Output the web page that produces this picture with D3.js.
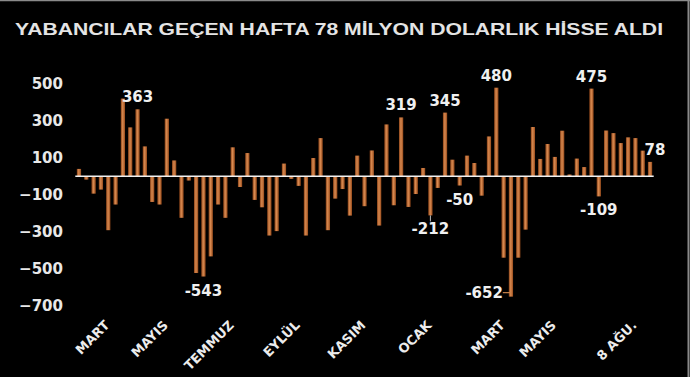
<!DOCTYPE html>
<html>
<head>
<meta charset="utf-8">
<script src="https://cdn.jsdelivr.net/npm/d3@7"></script>
<style>
  html, body { margin: 0; padding: 0; background: #000; }
</style>
</head>
<body>
<div id="chart"></div>
<script>
// weekly net foreign equity flows, million USD
const values = [40, -18, -94, -72, -292, -153, 421, 265, 363, 162,
  -139, -153, 312, 86, -225, -23, -524, -543, -434, -153,
  -225, 157, -58, 126, -128, -168, -321, -297, 69, -14,
  -52, -321, 99, 207, -292, -121, -69, -213, 112, -162,
  140, -267, 281, -157, 319, -166, -96, 45, -212, -63,
  345, 90, -50, 112, 72, -105, 216, 480, -441, -652,
  -441, -289, 267, 94, 175, 105, 247, 10, 96, 50,
  475, -109, 248, 234, 180, 211, 207, 139, 78];

const monthLabels = ["MART", "MAYIS", "TEMMUZ", "EYLÜL", "KASIM", "OCAK", "MART", "MAYIS", "8 AĞU."];
const monthIndex = [4, 12, 21, 30, 39, 48, 58, 65, 76];

const labelIndex = [8, 17, 44, 48, 50, 52, 57, 59, 70, 71, 78];

const yTicks = [500, 300, 100, -100, -300, -500, -700];

const title = "YABANCILAR GEÇEN HAFTA 78 MİLYON DOLARLIK HİSSE ALDI";

(function chart(){
  let width = 690,
    height = 377;

  const svg = d3.select("#chart")
    .append("svg")
    .attr("width", width)
    .attr("height", height)
    .style("display", "block")
    .style("background", "#000");

  const defs = svg.append("defs");
  const grad = defs.append("linearGradient")
    .attr("id", "barGrad")
    .attr("x1", 0).attr("x2", 1).attr("y1", 0).attr("y2", 0);
  grad.append("stop").attr("offset", 0).attr("stop-color", "#8a4318");
  grad.append("stop").attr("offset", 0.45).attr("stop-color", "#d98a50");
  grad.append("stop").attr("offset", 1).attr("stop-color", "#964a1b");

  const x = d3.scaleBand()
    .domain(d3.range(values.length))
    .range([75.3, 653.7])
    .paddingInner(0.42)
    .paddingOuter(0.21);

  const y = d3.scaleLinear()
    .domain([-700, 500])
    .range([305.5, 84]);

  // frame lines (top + right)
  svg.append("line")
    .attr("x1", 0).attr("x2", width).attr("y1", 0.5).attr("y2", 0.5)
    .attr("stroke", "#8a8a8a").attr("stroke-width", 1.5);
  svg.append("line")
    .attr("x1", 688.5).attr("x2", 688.5).attr("y1", 0).attr("y2", height)
    .attr("stroke", "#8a8a8a").attr("stroke-width", 2);

  // title
  svg.append("text")
    .attr("x", 15)
    .attr("y", 35)
    .attr("textLength", 648)
    .attr("lengthAdjust", "spacingAndGlyphs")
    .attr("font-family", "Liberation Sans, Arial, sans-serif")
    .attr("font-weight", "bold")
    .attr("font-size", 17)
    .attr("fill", "#e4e4e4")
    .text(title);

  // y axis, labels only
  const yAxis = svg.append("g")
    .attr("transform", "translate(63,0)")
    .call(d3.axisLeft(y).tickValues(yTicks).tickSize(0).tickPadding(0));
  yAxis.select(".domain").remove();
  yAxis.selectAll("text")
    .attr("font-family", "DejaVu Sans, Verdana, sans-serif")
    .attr("font-weight", "bold")
    .attr("font-size", 15)
    .attr("fill", "#e8e8e8");

  // bars
  svg.append("g")
    .selectAll("rect")
    .data(values)
    .join("rect")
    .attr("x", (d, i) => x(i))
    .attr("width", x.bandwidth())
    .attr("y", d => y(Math.max(0, d)))
    .attr("height", d => Math.abs(y(d) - y(0)))
    .attr("fill", "url(#barGrad)");

  // zero line
  svg.append("line")
    .attr("x1", x.range()[0]).attr("x2", x.range()[1])
    .attr("y1", y(0)).attr("y2", y(0))
    .attr("stroke", "#f2f2f2")
    .attr("stroke-width", 1.6);

  // leader marks for two labels
  const i212 = labelIndex[3], i652 = labelIndex[7];
  svg.append("line")
    .attr("x1", x(i212) + x.bandwidth() / 2).attr("x2", x(i212) + x.bandwidth() / 2)
    .attr("y1", y(values[i212])).attr("y2", y(values[i212]) + 6)
    .attr("stroke", "#bbbbbb").attr("stroke-width", 1);
  svg.append("line")
    .attr("x1", x(i652) - 6).attr("x2", x(i652) + x.bandwidth() / 2)
    .attr("y1", y(values[i652]) - 4).attr("y2", y(values[i652]) - 4)
    .attr("stroke", "#c9824a").attr("stroke-width", 1.2);

  // value labels
  svg.append("g")
    .attr("font-family", "DejaVu Sans, Verdana, sans-serif")
    .attr("font-weight", "bold")
    .attr("font-size", 15)
    .attr("fill", "#f0f0f0")
    .selectAll("text")
    .data(labelIndex)
    .join("text")
    .attr("text-anchor", i => i === i652 ? "end" : "middle")
    .attr("x", i => {
      let cx = x(i) + x.bandwidth() / 2;
      if (i === i652) return cx - 8;
      if (i === values.length - 1) return cx + 5;
      return cx;
    })
    .attr("y", i => {
      let v = values[i];
      if (i === i652) return y(v) + 1;
      return v >= 0 ? y(v) - 7 : y(v) + 19;
    })
    .text(i => values[i]);

  // month labels
  svg.append("g")
    .attr("font-family", "DejaVu Sans, Verdana, sans-serif")
    .attr("font-weight", "bold")
    .attr("font-size", 13)
    .attr("fill", "#ececec")
    .selectAll("text")
    .data(monthLabels)
    .join("text")
    .attr("text-anchor", "end")
    .attr("transform", (d, i) => `translate(${x(monthIndex[i]) + x.bandwidth() / 2 + 2},326) rotate(-45)`)
    .text(d => d);

})();
</script>
</body>
</html>
